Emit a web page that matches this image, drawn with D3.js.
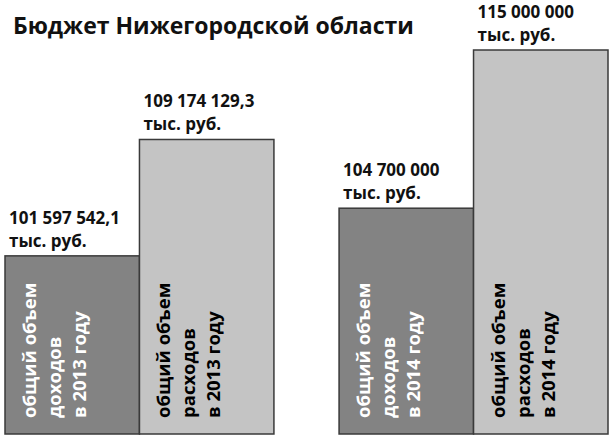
<!DOCTYPE html>
<html>
<head>
<meta charset="utf-8">
<script src="https://cdn.jsdelivr.net/npm/d3@7"></script>
<style>
  body { margin: 0; background: #fff; }
  svg { display: block; font-family: "Open Sans", sans-serif; font-weight: bold; }
</style>
</head>
<body>
<div id="chart"></div>
<script>
// data
const years = ["2013", "2014"]
const kinds = ["income", "expense"]
const values = {
    "2013": [101597542.1, 109174129.3],
    "2014": [104700000, 115000000]
}
const valueLabels = {
    "2013": ["101 597 542,1", "109 174 129,3"],
    "2014": ["104 700 000", "115 000 000"]
}
const kindWords = ["доходов", "расходов"]
const title = "Бюджет Нижегородской области"

const width = 609, height = 439

let svg = d3.select("#chart").append("svg")
    .attr("width", width)
    .attr("height", height)

// scales
let x0 = d3.scaleBand()
    .domain(years)
    .range([5, 608])
    .paddingInner(0.195)

let x1 = d3.scaleBand()
    .domain(kinds)
    .range([0, x0.bandwidth()])

let y = d3.scaleLinear()
    .domain([90000000, 115000000])
    .range([434, 50])

let colors = { income: "#838383", expense: "#c4c4c4" }
let textColors = { income: "#ffffff", expense: "#000000" }

// flatten
let bars = []
years.forEach(yr => {
    kinds.forEach((k, i) => {
        bars.push({ year: yr, kind: k, value: values[yr][i], label: valueLabels[yr][i], word: kindWords[i] })
    })
})

let g = svg.selectAll(".bar-group")
    .data(bars)
    .enter()
    .append("g")
    .attr("class", "bar-group")
    .attr("transform", d => `translate(${x0(d.year) + x1(d.kind)}, 0)`)

g.append("rect")
    .attr("x", 0)
    .attr("y", d => y(d.value))
    .attr("width", x1.bandwidth())
    .attr("height", d => y(90000000) - y(d.value))
    .attr("fill", d => colors[d.kind])
    .attr("stroke", "#3a3a3a")
    .attr("stroke-width", 1.5)

// value labels above bars
g.append("text")
    .attr("x", 4)
    .attr("y", d => y(d.value) - 32)
    .attr("font-size", 17)
    .attr("fill", "#111")
    .text(d => d.label)

g.append("text")
    .attr("x", 4)
    .attr("y", d => y(d.value) - 9)
    .attr("font-size", 17)
    .attr("fill", "#111")
    .text("тыс. руб.")

// rotated labels inside bars
g.each(function(d) {
    let lines = ["общий объем", d.word, "в " + d.year + " году"]
    d3.select(this).selectAll(".inner")
        .data(lines)
        .enter()
        .append("text")
        .attr("class", "inner")
        .attr("transform", (t, i) => `translate(${31 + i * 25}, 418) rotate(-90)`)
        .attr("font-size", 18.5)
        .attr("fill", textColors[d.kind])
        .text(t => t)
})

// title
svg.append("text")
    .attr("x", 13)
    .attr("y", 34)
    .attr("font-size", 23)
    .attr("fill", "#111")
    .text(title)
</script>
</body>
</html>
